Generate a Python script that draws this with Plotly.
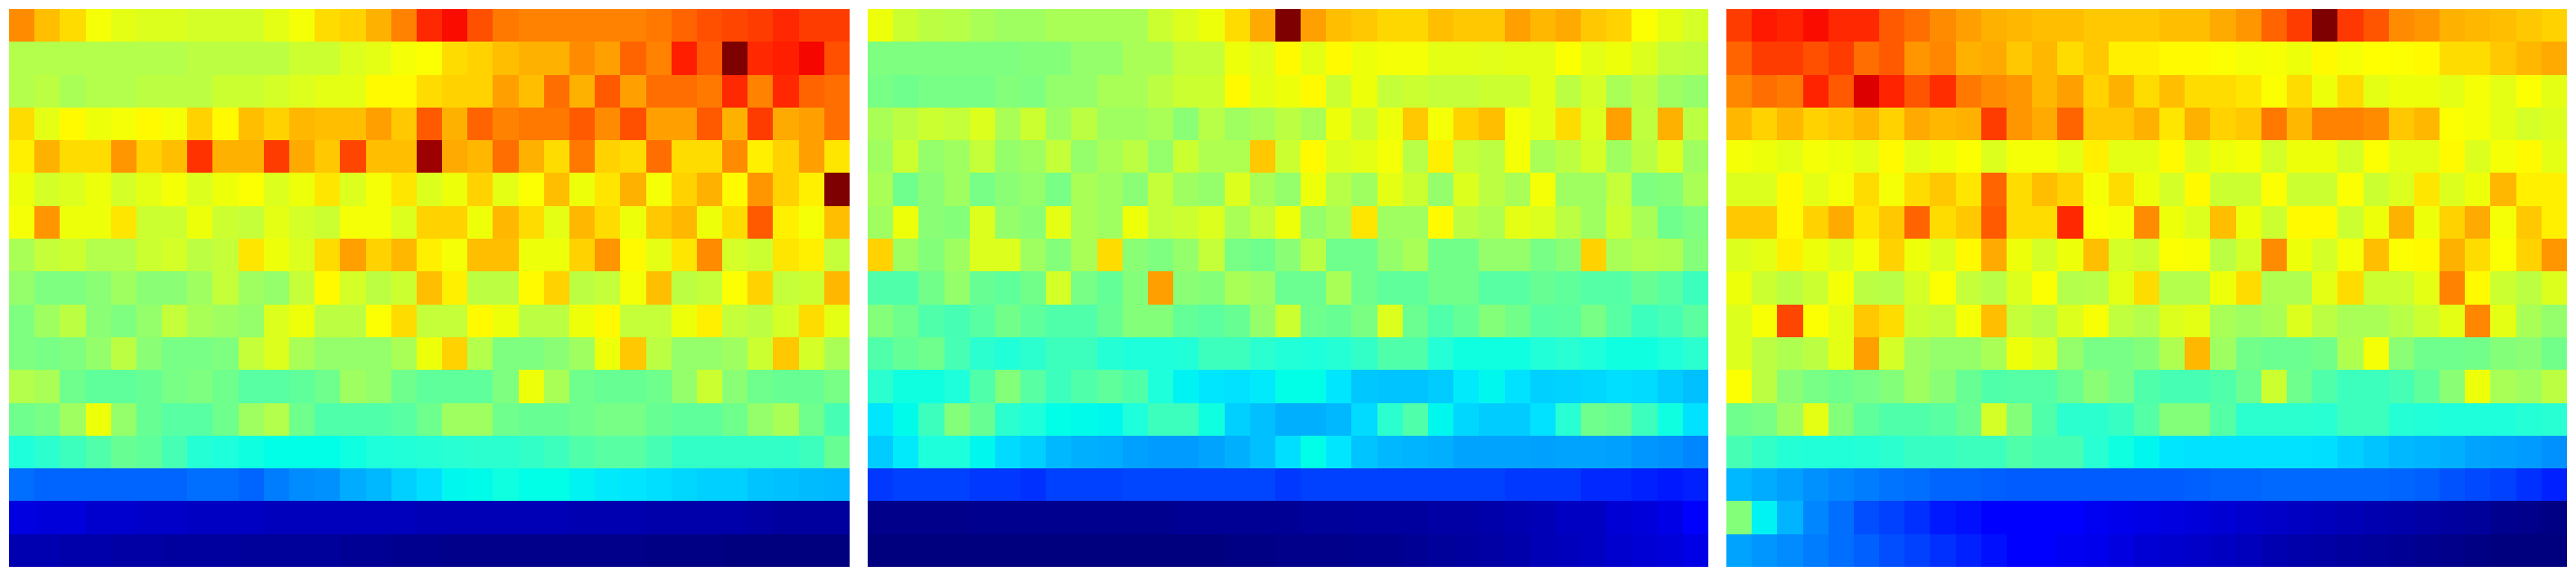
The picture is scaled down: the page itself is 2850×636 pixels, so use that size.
import plotly.graph_objects as go
from plotly.subplots import make_subplots

# values are in percent of the colour range; row 0 is the top row
panel_a = [
[77,71,68,63,61,60,60,59,59,59,61,63,68,69,73,78,87,90,83,79,78,78,78,78,78,79,81,83,84,85,87,85,85],
[55,55,55,55,55,55,55,56,56,56,56,58,58,60,61,63,64,68,69,71,73,73,77,75,81,78,88,82,100,87,88,91,83],
[55,56,54,55,55,56,56,56,58,58,59,60,61,61,65,65,68,69,69,75,71,80,73,82,75,80,80,79,87,78,87,81,80],
[68,61,65,62,63,65,63,69,65,71,69,72,71,71,75,70,82,73,81,78,79,79,82,77,83,75,75,82,73,85,74,75,80],
[66,73,68,68,76,69,71,86,73,73,85,74,70,84,71,71,98,74,72,80,73,68,79,69,68,80,68,68,77,66,69,75,67],
[62,59,60,62,59,61,63,60,62,64,60,62,67,60,63,67,60,62,69,61,64,71,62,67,73,63,69,73,65,76,69,66,100],
[63,76,62,62,67,58,58,62,58,57,61,59,58,63,63,60,69,69,62,72,68,61,72,68,62,70,72,62,68,82,66,63,71],
[54,57,58,55,55,58,59,56,57,67,62,60,68,75,69,72,66,63,71,71,62,62,69,76,65,61,67,77,59,58,67,66,57],
[52,50,50,51,53,51,51,53,57,53,52,57,65,59,56,58,71,66,56,56,65,69,56,57,63,71,56,57,64,69,57,58,72],
[50,53,56,51,50,52,57,54,53,52,60,62,56,56,64,68,57,57,65,62,56,56,62,65,57,57,62,66,57,56,59,68,61],
[50,49,50,52,56,51,49,49,50,57,60,54,52,52,52,54,62,69,55,50,50,51,53,62,70,56,52,52,53,58,70,59,54],
[55,54,48,46,46,47,49,50,48,45,45,46,48,53,52,48,46,46,46,50,62,54,48,47,47,48,52,58,51,48,47,47,49],
[48,49,53,62,52,47,45,45,48,53,55,48,44,44,44,45,48,53,53,48,47,47,48,49,49,47,46,46,48,52,54,48,43],
[38,40,42,44,47,46,43,39,38,37.5,37,37,37,37.5,38,38.5,39,39.5,40,40,41,42,44,45,45,43,41,41,41,41,41,42,47],
[20,19,19,19,19,19,19,20,20,19,21.5,23,23.5,26.5,28,31,33,36,36.5,37.5,37,37,35.5,34.5,34,33,32,31,31,29.5,29,28.5,28],
[8.5,8,8,7,7,6.5,6.5,6,6,6,5.5,5.5,5.5,5.5,5.5,5.5,5,5,5,5,5,5,4.5,4.5,4.5,4,4,4,4,3.5,3,3,3],
[4.5,4.5,4,4,3.5,3.5,3,3,3,2.5,2.5,2.5,2.5,2,2,1.5,1.5,1,1,1,1,1,1,1,1,.5,.5,.5,0,0,0,0,0],
]

panel_b = [
[62,58,56,55.5,54,53,53,54,54,54,54,58,60,62,68,74,100,75,71,70,68.5,68.5,71,70,70,75,72,74,70,69,64,61,59],
[50,50,50,50,50,50,50.5,50.5,52,52,54,54,57,57,62,60.5,65,61,65,62,63,63,61,61,60.5,61,61,64,61,62,60,57,56.5],
[49,48,49,49,49,50.5,50,52,52,54,54,56,58,58,65,61,62,65,58,62,57,58,57,57,58,58,61,56,59,54,56,53,52],
[54,56,58,57,60,54,58,53,56,53,53,54,51,55.5,53,54,56,54,62,58,62,70,63,69,71,63,61,68,60,75,56.5,73,56],
[53,58,52,53,57,52,53,57,52,54,56,52,58,54.5,54.5,70,58,65,60,61,63,55.5,66,57,56,63,54,56,59,53,56,60,53],
[54,48,51,53,49,51,52,49,54,53,51,57,53,52,60,54,52,62,55.5,53,61,58,52,60,56,54,63,53,53,57,50,50.5,54],
[53,62,51,50.5,60,52,51,61,54,53,62,57,58,60,54,57,62,52,54,67,53,53,65,56,54.5,61,60,56,53,58,54,48,50],
[69,53,50.5,53,60,60,53,50.5,54,68,51,50,52,57,49,48,51,56,48,48,52,54,48.5,48.5,52,52,49,51,69,54,55,54.5,50.5],
[44,44,48.5,52,47,46,48.5,59,49,46.5,50.5,75,51,50.5,54,53,47.5,47.5,54,48,46,46,48.5,48.5,45,45,47,46,44.5,44.5,47,45,42],
[50.5,48,44,43,45,48.5,46,44,44,47,50.5,50.5,46.5,45.5,47,52,58,48,47,49.5,60,47.5,44,46.5,50.5,48.5,45,45.5,49,45,42,43,45.5],
[44,46.5,48,43,40,38.5,40,42,42,39,38,38,38.5,42,42,40,38.5,38,39,41,44,44,39,37.5,37.5,37.5,38.5,39.5,38,37.5,37.5,38,40],
[40,37.5,37.5,38,44,50.5,45,42,44,46,44,38,35.5,34,33.5,34.5,37,37,34,30,29.5,29.5,30.5,34.5,36,33.5,31,31.5,32,33,32.5,30.5,29],
[34,36.5,42,50.5,47,40,38,37,36.5,36,38,42,42,37.5,31,29,27,27,28,32.5,40,44,36,32,30.5,30.5,33.5,39.5,48,47,42,37.5,33.5],
[30.5,34.5,38,38,36,32.5,31,28,27,26.5,25,24.5,24.5,25.5,27,29,33,37,34,29.5,28,27.5,27,25.5,25.5,25.5,25,25.5,25.5,25,24,23.5,22.5],
[14.5,15,15,15,14.5,14.5,14,15,15,15,15.5,15.5,15.5,15.5,15.5,15.5,14.5,15,15,15,15,15,15,15,15,14.5,14.5,14.5,13.5,13.5,13,12.5,13],
[1,1,1,1,1.5,1.5,1.5,1.5,1.5,1.5,1.5,1.5,2,2,2,2,2,2.5,2.5,3,3,3,3.5,3.5,4,4.5,5,6,6,7.5,8,9,11],
[0,0,0,0,0,0,0,0,0,0,0,0,0,0,.5,.5,1,1,1,1.5,1.5,2,2.5,3,3.5,4,5,5.5,6,7,7.5,8,9],
]

panel_c = [
[85,88.5,87.5,90,87,87,82,80,77,75,73,72,71,71,70,70,70,71,71,74,76,81,85,100,85.5,82.5,77,76,73,72,71,70,69],
[81,85,85,83,85,80,82,76,77.5,73,74,70,72,68,70,66,66,65,65,64,63,63.5,62,65,63,64.5,64,65,68,68,70,72,74],
[77.5,80,79,87.5,82,93.5,87.5,82.5,86.5,79,77,76,72,75,69,73,68,71,68,68,67,64,68,62,68,61,62,62,61,63,61,64,61],
[72,69,72,69,70,72,69,74,72,73,85,76,74,81,70,70,73,67,73,69,70,79,72,78,78,77,70,72,64,63,61,59,60],
[63,62,61,63,62,61,65,61,62,64,60,63,63,61,66,61,61,65,60,62,63,59,62,62,59,64,61,61,65,60,63,65,61],
[60,60,65,61,63,68,63,68,70,67,81,68,71,69,63,68,62,59,65,58,58,64,58,58,64,58,60,67,60,62,72,66,66],
[70,70,65,69,74,67,70,81,68,70,82,68,68,87,64,63,77,62,60,71,62,58,65,65,58,62,73,62,69,74,63,70,66],
[60,61,66,62,60,63,69,62,60,65,74,62,59,62,71,59,58,64,63.5,56,59,77,62,59,63,71,64,65,73,68,64,69,76],
[62,58,56,58,63,56,55.5,59,64,57,55.5,60,64,55,55.5,61,68,55,55,62,68,54.5,54.5,61,68,58,58,61,78,65,58,56,60],
[60,63.5,84,64,61,70,68,58,57,63,71,57,55.5,60,63.5,56.5,55,60,61,54,53,54,60,56,54,54,55.5,58,61,77.5,61,54,52],
[60,56,54.5,56,61,75,59,53,52,52,54,62,60,52,49,49,50.5,54.5,72,53,48.5,47.5,47.5,48.5,54.5,63,51,48,48,48.5,50.5,51,48.5],
[64,56,51,49,48,49,50.5,53,51,47,44,44.5,44.5,47.5,51,49,44,43,43,44,47.5,58,48,44,42,42,43,46,51,62,54,53,56],
[48,49,53,61,50.5,46,44,44,45,47.5,59,50.5,44,40,40,41.5,44.5,50.5,50.5,44.5,40,40,40,39.5,42,42,39,38.5,38,38,38,39,39.5],
[43,41,39,38.5,38.5,39,40,41.5,41.5,42,42,44,43,43,39.5,37.5,36,34,33.5,33.5,33.5,33.5,33.5,33,31,29.5,28,27.5,27,25.5,25,24.5,23.5],
[28,26.5,25,23.5,22.5,21.5,20.5,20,19,19,18.5,18,18,18,18,18,18,18,18.5,19,19,19.5,19.5,19.5,19.5,19.5,19,18.5,17,16,15,14,13],
[50.5,35.5,27.5,22.5,20,16.5,15,14,12.5,12,11,11,11,11,10,9.5,9,8.5,8,7.5,7,6.5,6,5.5,5,4.5,4,3.5,3,2.5,1.5,1,.5],
[25.5,24,23,21.5,20,18.5,16.5,15,14,13,12,11,11,10,9.5,8.5,7.5,7,6.5,6,5.5,4.5,4,3.5,3,2.5,2,1.5,1,.5,0,0,0],
]

jet_stops = [
(0,(0,0,127)),(4,(0,0,170)),(11,(0,0,255)),(15,(0,64,255)),(20,(0,110,255)),(25,(0,160,255)),
(30,(0,200,255)),(34,(0,230,255)),(37,(0,255,230)),(38,(30,255,220)),(41,(50,255,200)),(44,(80,255,170)),
(48,(110,255,140)),(50,(127,255,127)),(55,(180,255,75)),(60,(220,255,30)),(62,(238,255,10)),(64.5,(255,255,0)),
(67,(255,230,0)),(69,(255,210,0)),(71,(255,190,0)),(74,(255,170,0)),(77,(255,140,0)),(79,(255,120,0)),
(81,(255,100,0)),(84,(255,70,0)),(87,(255,40,0)),(89,(255,20,0)),(92,(240,0,0)),(95,(200,0,0)),(100,(127,0,0)),
]
colorscale = [[v/100, f"rgb{c}"] for v, c in jet_stops]

for p in (panel_a, panel_b, panel_c):
    assert len(p) == 17 and all(len(r) == 33 for r in p), [len(r) for r in p]

# the page keeps its 8px body margin, so the figure is 16px smaller than the window
W, H = 2834, 620
X0 = [2, 952, 1902]
PW = 930
Y0, Y1 = 2, 619

fig = make_subplots(rows=1, cols=3)
for i, panel in enumerate((panel_a, panel_b, panel_c)):
    fig.add_trace(go.Heatmap(z=panel, zmin=0, zmax=100, colorscale=colorscale, showscale=False), row=1, col=i+1)
    n = "" if i == 0 else str(i+1)
    fig.layout["xaxis"+n].update(domain=[X0[i]/W, (X0[i]+PW)/W], visible=False, range=[-0.5, 32.5])
    fig.layout["yaxis"+n].update(domain=[1-Y1/H, 1-Y0/H], visible=False, range=[16.5, -0.5])

fig.update_layout(width=W, height=H, margin=dict(l=0, r=0, t=0, b=0),
                  paper_bgcolor="white", plot_bgcolor="white")
fig.write_html("out.html")
